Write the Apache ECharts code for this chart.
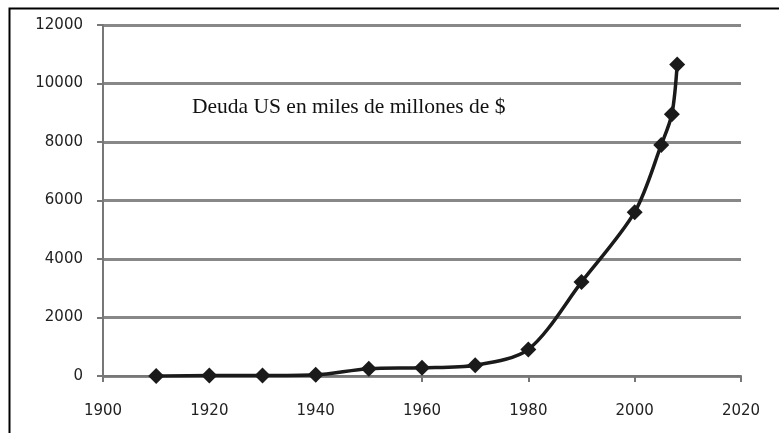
<!DOCTYPE html>
<html>
<head>
<meta charset="utf-8">
<script src="https://cdn.jsdelivr.net/npm/echarts@6/dist/echarts.min.js"></script>
<style>
  html, body { margin: 0; padding: 0; background: #fff; }
  #chart { width: 779px; height: 433px; }
</style>
</head>
<body>
<div id="chart"></div>
<script>
// años y deuda (miles de millones de $)
const years = [1910, 1920, 1930, 1940, 1950, 1960, 1970, 1980, 1990, 2000, 2005, 2007, 2008];
const debt = [0, 20, 15, 40, 250, 280, 370, 910, 3210, 5600, 7900, 8950, 10650];
const chartLabel = 'Deuda US en miles de millones de $';

const chart = echarts.init(document.getElementById('chart'));

chart.setOption({
  animation: false,
  grid: { left: 103, right: 38, top: 25, bottom: 57 },
  graphic: [
    {
      type: 'rect',
      shape: { x: 9.5, y: 8.5, width: 800, height: 500 },
      style: { fill: 'none', stroke: '#000', lineWidth: 2 },
      silent: true
    },
    {
      type: 'text',
      left: 192,
      top: 96,
      style: {
        text: chartLabel,
        font: '21.5px "Liberation Serif", "DejaVu Serif", serif',
        fill: '#111'
      }
    }
  ],
  xAxis: {
    type: 'value',
    min: 1900,
    max: 2020,
    interval: 20,
    axisLine: { lineStyle: { color: '#777', width: 2 } },
    axisTick: { show: true, length: 6, lineStyle: { color: '#777', width: 2 } },
    axisLabel: {
      color: '#222',
      fontFamily: 'DejaVu Sans',
      fontSize: 15,
      margin: 28,
      formatter: v => String(v)
    },
    splitLine: { show: false }
  },
  yAxis: {
    type: 'value',
    min: 0,
    max: 12000,
    interval: 2000,
    axisLine: { show: true, lineStyle: { color: '#777', width: 2 } },
    axisTick: { show: true, length: 6, lineStyle: { color: '#777', width: 2 } },
    axisLabel: {
      color: '#222',
      fontFamily: 'DejaVu Sans',
      fontSize: 15,
      margin: 20,
      formatter: v => String(v)
    },
    splitLine: { lineStyle: { color: '#888', width: 3 } }
  },
  series: [{
    type: 'line',
    data: years.map((y, i) => [y, debt[i]]),
    smooth: 0.3,
    symbol: 'diamond',
    symbolSize: 16,
    itemStyle: { color: '#1a1a1a' },
    lineStyle: { color: '#1a1a1a', width: 3.5 }
  }]
});
</script>
</body>
</html>
